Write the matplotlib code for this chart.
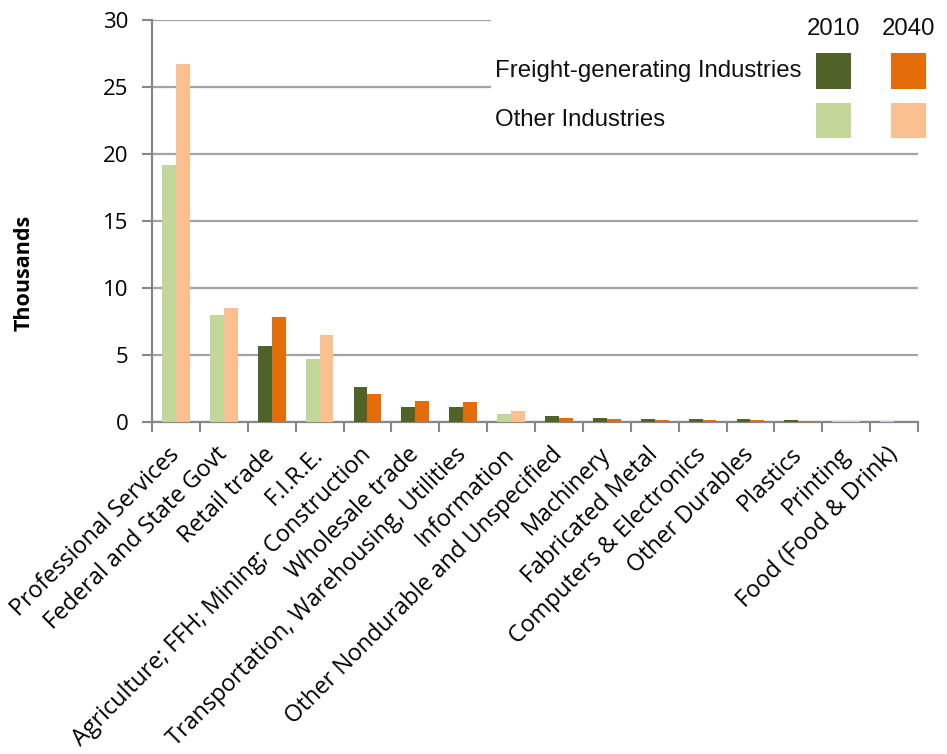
import matplotlib
matplotlib.use("Agg")
import matplotlib.pyplot as plt
from matplotlib.patches import Rectangle
import numpy as np

# Employment by industry, thousands
categories = [
    "Professional Services", "Federal and State Govt", "Retail trade", "F.I.R.E.",
    "Agriculture; FFH; Mining; Construction", "Wholesale trade",
    "Transportation, Warehousing, Utilities", "Information",
    "Other Nondurable and Unspecified", "Machinery", "Fabricated Metal",
    "Computers & Electronics", "Other Durables", "Plastics", "Printing",
    "Food (Food & Drink)",
]
jobs_2010 = [19.2, 8.0, 5.65, 4.7, 2.63, 1.15, 1.1, 0.62, 0.42, 0.27, 0.25,
             0.25, 0.24, 0.12, 0.05, 0.05]
jobs_2040 = [26.7, 8.5, 7.85, 6.5, 2.08, 1.6, 1.52, 0.84, 0.32, 0.23, 0.18,
             0.18, 0.17, 0.08, 0.04, 0.02]
freight_generating = [False, False, True, False, True, True, True, False,
                      True, True, True, True, True, True, False, False]

y_ticks = [0, 5, 10, 15, 20, 25, 30]
years = ["2010", "2040"]
group_labels = ["Freight-generating Industries", "Other Industries"]

DARK_GREEN = "#4F6228"
ORANGE = "#E46C0A"
LIGHT_GREEN = "#C4D79B"
LIGHT_ORANGE = "#FAC090"
AXIS_GRAY = "#878787"
GRID_GRAY = "#A3A3A3"

W, H = 947, 754
fig = plt.figure(figsize=(W / 100, H / 100), dpi=100)
ax = fig.add_axes([152 / W, 1 - 422 / H, (918 - 152) / W, (422 - 20) / H])

x = np.arange(len(categories))
bw = 0.29
c10 = [DARK_GREEN if f else LIGHT_GREEN for f in freight_generating]
c40 = [ORANGE if f else LIGHT_ORANGE for f in freight_generating]
ax.bar(x - bw / 2, jobs_2010, width=bw, color=c10, zorder=3)
ax.bar(x + bw / 2, jobs_2040, width=bw, color=c40, zorder=3)

ax.set_xlim(-0.5, len(categories) - 0.5)
ax.set_ylim(0, 30)
ax.set_yticks(y_ticks)
ax.set_yticklabels([str(t) for t in y_ticks], fontsize=16, family="Open Sans")
ax.yaxis.grid(True, color=GRID_GRAY, linewidth=1.6, zorder=0)
ax.set_axisbelow(True)

ax.set_xticks(x)
ax.set_xticklabels(categories, rotation=45, ha="right", va="center",
                   rotation_mode="anchor", fontsize=16.8, family="Open Sans")
ax.set_xticks(np.arange(len(categories) + 1) - 0.5, minor=True)
ax.tick_params(axis="x", which="major", length=0, pad=21)
ax.tick_params(axis="x", which="minor", length=7, width=1.5, color=AXIS_GRAY, direction="out")
ax.tick_params(axis="y", length=7, width=1.5, color=AXIS_GRAY, pad=10)

for side in ("top", "right"):
    ax.spines[side].set_visible(False)
for side in ("left", "bottom"):
    ax.spines[side].set_color(AXIS_GRAY)
    ax.spines[side].set_linewidth(1.6)

fig.text(24 / W, 1 - 273 / H, "Thousands", rotation=90, ha="center", va="center",
         fontsize=15.5, fontweight="bold", family="Open Sans")

# Legend panel: white box over the upper gridlines
fig.add_artist(Rectangle((491 / W, 1 - 146 / H), 1 - 491 / W, 146 / H,
                         transform=fig.transFigure, facecolor="white",
                         edgecolor="none", zorder=5))
leg_font = dict(family="Liberation Sans", fontsize=17.3, color="#111111", zorder=6)
col_x = [833, 908]
for cx, yr in zip(col_x, years):
    fig.text(cx / W, 1 - 29 / H, yr, ha="center", va="center", **leg_font)
row_y = [71, 120]
for ry, lab in zip(row_y, group_labels):
    fig.text(495 / W, 1 - ry / H, lab, ha="left", va="center", **leg_font)
swatches = [[DARK_GREEN, ORANGE], [LIGHT_GREEN, LIGHT_ORANGE]]
sw = 35
for ry, row in zip(row_y, swatches):
    for cx, col in zip(col_x, row):
        fig.add_artist(Rectangle(((cx - sw / 2) / W, 1 - (ry + sw / 2) / H), sw / W, sw / H,
                                 transform=fig.transFigure, facecolor=col,
                                 edgecolor="none", zorder=6))

fig.savefig("out.png", dpi=100)
